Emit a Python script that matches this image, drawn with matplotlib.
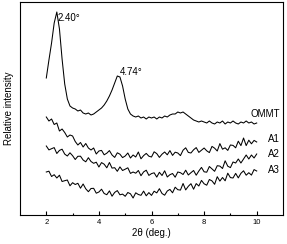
import numpy as np
import matplotlib.pyplot as plt

plt.rcParams['font.family'] = ['Liberation Sans', 'DejaVu Sans']

two_theta = np.round(np.arange(2.0, 10.01, 0.1), 2)

# heights (arbitrary units, curves already offset)
ommt = [137, 155, 172, 192, 203, 186, 156, 131, 116, 109,
        107, 106, 104, 105, 102, 101, 102, 100, 101, 103,
        105, 107, 110, 114, 119, 125, 132, 139, 138, 129,
        116, 106, 101, 99, 98, 99, 97, 98, 96, 98,
        97, 98, 96, 98, 97, 99, 98, 100, 101, 101,
        103, 102, 103, 101, 99, 97, 95, 94, 93, 94,
        93, 92, 94, 92, 91, 93, 92, 94, 91, 93,
        92, 94, 92, 91, 93, 92, 94, 92, 93, 91, 92]

a1 = [98, 94, 96, 90.5, 92, 84, 86, 82.5, 78, 80,
      79, 73.5, 70, 72.5, 68, 71.5, 67, 65, 67, 61,
      64, 64.6, 60.2, 61.8, 64.4, 60, 57.6, 62.2, 60.8, 57.4,
      59, 62, 57, 60, 58, 63, 56.2, 59.4, 61.6, 58.8,
      58, 63.2, 61.4, 57.6, 60.8, 63, 60.2, 64.4, 59.6, 62.8,
      62, 59.4, 64.8, 67.2, 62.6, 62, 65.2, 67.4, 62.6, 64.8,
      67, 64.2, 62.4, 68.6, 66.8, 64, 71.4, 65.8, 67.2, 64.6,
      70, 69.6, 67.2, 73.8, 69.4, 77, 69.4, 74.8, 71.2, 74.6, 73]

a2 = [69, 65.1, 66.3, 67.4, 61.5, 64.6, 65.8, 60.9, 59, 62.2,
      59.3, 55.5, 58.7, 58.8, 55, 53.2, 57.3, 53.5, 51.7, 52.8,
      48, 52.4, 50.8, 47.2, 52.5, 46.9, 47.3, 43.7, 48.1, 44.5,
      45.8, 47.2, 41.6, 43, 41.8, 44.5, 39.3, 43.1, 44.8, 39.6,
      41.4, 42.2, 37.9, 42.7, 39.5, 44.2, 38, 40.3, 41.5, 37.8,
      43, 42.3, 40.5, 44.8, 40, 42.3, 44.5, 39.8, 44, 47.6,
      43.2, 42.8, 48.5, 46.1, 43.7, 49.3, 48.9, 46.5, 54.2, 48.8,
      47.4, 53, 52, 56, 52, 56, 60, 56, 60, 57, 61]

a3 = [43, 43.8, 38.5, 40.3, 37, 39.8, 33.5, 34.3, 35, 29.2,
      32.3, 30.5, 31.7, 26.8, 31, 26.2, 23.3, 26.5, 26.7, 21.8,
      23, 25.8, 21.5, 20.3, 24.1, 18.8, 22.6, 24.4, 20.2, 20.9,
      18.7, 22.5, 21.2, 17, 22.2, 20.5, 19.7, 23.9, 19.2, 22.4,
      19.6, 23.8, 22.1, 26.3, 21.5, 19.8, 24, 25.6, 22.2, 27.8,
      25.3, 24.9, 31.5, 25.1, 28.7, 31.3, 25.8, 31.4, 29, 34.6,
      31.2, 29.8, 35.5, 34.1, 30.7, 38.3, 33.9, 37.5, 34.2, 41.8,
      37.4, 37, 41.6, 37.1, 41.7, 44.2, 39.8, 42.3, 39.9, 45.4, 44]

names = ["OMMT", "A1", "A2", "A3"]
label_y = [101, 76, 61, 45]
peak_labels = ["2.40°", "4.74°"]
peak_label_xy = [(2.44, 197), (4.8, 143)]

fig = plt.figure(figsize=(2.87, 2.44), dpi=100)
ax = fig.add_axes([20 / 287, 29 / 244, 263 / 287, 213 / 244])

for name, vals, ly in zip(names, [ommt, a1, a2, a3], label_y):
    ax.plot(two_theta, vals, color='black', lw=0.75)
    ax.text(10.88, ly, name, fontsize=7, ha='right', va='center')

for txt, (px, py) in zip(peak_labels, peak_label_xy):
    ax.text(px, py, txt, fontsize=7, ha='left', va='center')

ax.set_xlim(1, 11)
ax.set_ylim(0, 213)
ax.set_xticks([2, 4, 6, 8, 10])
ax.set_xticks([3, 5, 7, 9], minor=True)
ax.set_yticks([])
ax.tick_params(axis='x', which='major', direction='in', length=3, width=0.8, labelsize=5.5, pad=3)
ax.tick_params(axis='x', which='minor', direction='in', length=1.5, width=0.8)
ax.set_xlabel("2θ (deg.)", fontsize=7, labelpad=1)
ax.set_ylabel("Relative intensity", fontsize=7, labelpad=4)
for s in ax.spines.values():
    s.set_linewidth(0.8)

fig.savefig("out.png", dpi=100)
